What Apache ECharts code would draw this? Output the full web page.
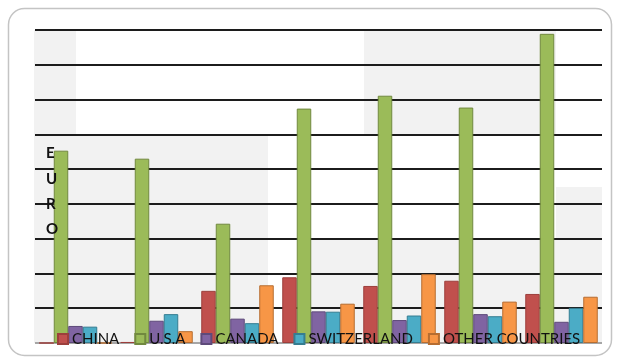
<!DOCTYPE html>
<html>
<head>
<meta charset="utf-8">
<script src="https://cdn.jsdelivr.net/npm/echarts@6/dist/echarts.min.js"></script>
<style>
  html, body { margin: 0; padding: 0; background: #fff; }
  #chart { width: 619px; height: 362px; }
</style>
</head>
<body>
<div id="chart"></div>
<script>
// Yearly groups (unlabelled on the axis) and the five country series
const categories = ['1', '2', '3', '4', '5', '6', '7'];
const seriesNames = ['CHINA', 'U.S.A', 'CANADA', 'SWITZERLAND', 'OTHER COUNTRIES'];
const china          = [0,    0.3,  15.0, 18.9, 16.4, 17.9, 14.1];
const usa            = [55.3, 53.0, 34.3, 67.4, 71.1, 67.7, 88.9];
const canada         = [4.9,  6.4,  7.0,  9.1,  6.6,  8.3,  6.1];
const switzerland    = [4.7,  8.3,  5.7,  9.0,  7.9,  7.7,  10.1];
const otherCountries = [0,    3.4,  16.6, 11.3, 19.8, 11.9, 13.3];
const axisTitle = ['E', 'U', 'R', 'O'];

const fills   = ['#C0504D', '#9BBB59', '#8064A2', '#4BACC6', '#F79646'];
const borders = ['#9C3F3C', '#71893F', '#5E4A7A', '#357D91', '#B66D31'];
const values  = [china, usa, canada, switzerland, otherCountries];

const chart = echarts.init(document.getElementById('chart'), null, { renderer: 'canvas' });

// Light grey panels behind the plot area
const panels = [
  [34, 30, 42, 105],
  [34, 135, 234, 208],
  [364, 30, 192, 105],
  [556, 187, 46, 156],
  [300, 239, 256, 104]
];

const graphic = [
  {
    type: 'rect', z: -20, silent: true,
    shape: { x: 8.5, y: 8.5, width: 603, height: 347, r: 16 },
    style: { fill: '#ffffff', stroke: '#c4c4c4', lineWidth: 1.5 }
  }
].concat(panels.map(p => ({
  type: 'rect', z: -15, silent: true,
  shape: { x: p[0], y: p[1], width: p[2], height: p[3] },
  style: { fill: '#f2f2f2' }
}))).concat([{
  type: 'text', z: 10, silent: true,
  left: 46, top: 141,
  style: {
    text: axisTitle.join('\n'),
    font: 'bold 15px Lato, "Liberation Sans", sans-serif',
    lineHeight: 25.3,
    fill: '#111111',
    align: 'left'
  }
}]);

const gridColors = ['#a6a6a6'].concat(new Array(9).fill('#1c1c1c'));

chart.setOption({
  animation: false,
  backgroundColor: 'transparent',
  graphic: graphic,
  grid: { left: 35, right: 17, top: 30, bottom: 19, containLabel: false },
  legend: {
    data: seriesNames,
    left: 57,
    top: 330,
    width: 560,
    padding: 0,
    itemWidth: 10,
    itemHeight: 10,
    itemGap: 15,
    icon: 'rect',
    textStyle: {
      fontFamily: 'Lato, "Liberation Sans", sans-serif',
      fontSize: 15,
      color: '#111111',
      lineHeight: 18,
      padding: [0, 0, 0, -1]
    }
  },
  xAxis: {
    type: 'category',
    data: categories,
    axisLabel: { show: false },
    axisTick: { show: false },
    axisLine: { show: false },
    splitLine: { show: false }
  },
  yAxis: {
    type: 'value',
    min: 0,
    max: 90,
    interval: 10,
    axisLabel: { show: false },
    axisTick: { show: false },
    axisLine: { show: false },
    splitLine: { show: true, lineStyle: { color: gridColors, width: 2 } }
  },
  series: seriesNames.map((name, i) => ({
    name: name,
    type: 'bar',
    data: values[i],
    barWidth: 14.5,
    barGap: '0%',
    itemStyle: { color: fills[i], borderColor: borders[i], borderWidth: 1 }
  }))
});
</script>
</body>
</html>
